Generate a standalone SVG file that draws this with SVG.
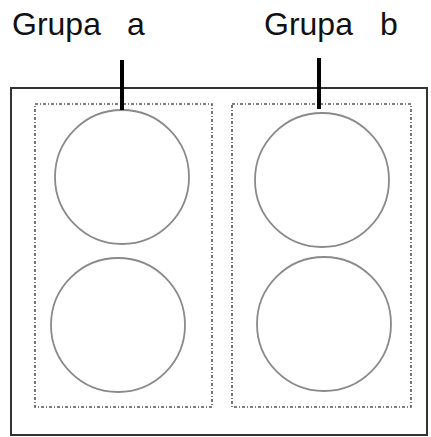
<svg xmlns="http://www.w3.org/2000/svg" width="431" height="437" viewBox="0 0 431 437">
<style>
.lbl{font-family:"Liberation Sans",Arial,sans-serif;font-size:32px;fill:#111}
.dash{fill:none;stroke:#555;stroke-width:1.6;stroke-dasharray:3 2 1 2}
.c{fill:#fff;stroke:#8a8a8a;stroke-width:1.8}
.lead{stroke:#000;stroke-width:4}
</style>
<rect width="431" height="437" fill="#fff"/>
<rect x="11" y="88" width="416" height="347" fill="#fff" stroke="#333" stroke-width="2"/>
<g id="groupA">
<rect class="dash" x="35" y="104" width="177" height="303"/>
<circle class="c" cx="122" cy="177" r="67"/>
<circle class="c" cx="118" cy="325" r="67"/>
</g>
<g id="groupB">
<rect class="dash" x="232" y="104" width="179" height="303"/>
<circle class="c" cx="322" cy="180" r="67"/>
<circle class="c" cx="324" cy="324" r="67"/>
</g>
<g id="connectors">
<line class="lead" x1="122" y1="60" x2="122" y2="110"/>
<line class="lead" x1="319" y1="58" x2="319" y2="109"/>
</g>
<g id="labelA"><text class="lbl" x="12" y="35">Grupa</text><text class="lbl" x="127" y="35">a</text></g>
<g id="labelB"><text class="lbl" x="264" y="35">Grupa</text><text class="lbl" x="380" y="35">b</text></g>
</svg>
